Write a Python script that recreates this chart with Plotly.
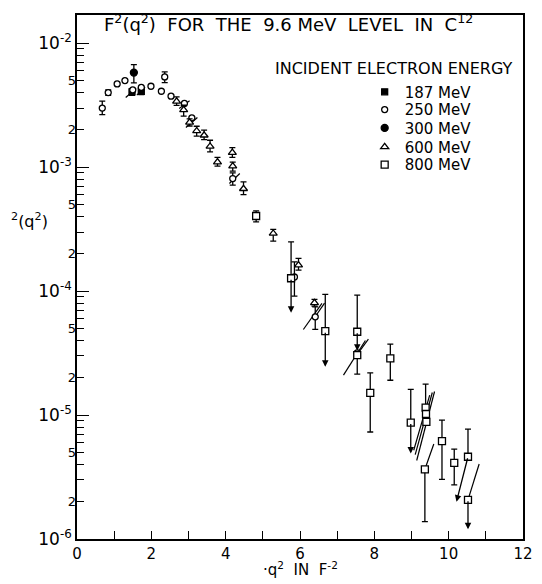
import numpy as np
import plotly.graph_objects as go

FONT = "DejaVu Sans"
INK = "black"

# ---- measured form factors, F^2(q^2), per incident electron energy ----
# 187 MeV
q2_187 = [1.48, 1.73]
f2_187 = [4.05e-3, 4.10e-3]
hi_187 = [4.30e-3, 4.35e-3]
lo_187 = [3.80e-3, 3.85e-3]

# 250 MeV
q2_250 = [0.68, 0.84, 1.08, 1.29, 1.50, 1.73, 1.99, 2.27, 2.36, 2.53, 2.89, 3.09, 4.19, 5.85, 6.41, 7.54]
f2_250 = [3.0e-3, 4.0e-3, 4.7e-3, 5.0e-3, 4.2e-3, 4.4e-3, 4.5e-3, 4.1e-3, 5.35e-3, 3.74e-3,
          3.27e-3, 2.5e-3, 8.1e-4, 1.30e-4, 6.2e-5, 3.18e-5]
hi_250 = [3.41e-3, 4.2e-3, None, None, None, None, None, None, 5.87e-3, None,
          None, None, 9.0e-4, 1.72e-4, 7.46e-5, None]
lo_250 = [2.66e-3, 3.8e-3, None, None, None, None, None, None, 4.82e-3, None,
          None, None, 7.16e-4, 9.1e-5, 4.91e-5, None]

# 300 MeV
q2_300 = [1.53]
f2_300 = [5.8e-3]
hi_300 = [6.73e-3]
lo_300 = [4.79e-3]

# 600 MeV
q2_600 = [2.68, 2.87, 3.03, 3.22, 3.42, 3.58, 3.78, 4.18, 4.19, 4.48, 5.28, 5.96, 6.39]
f2_600 = [3.4e-3, 2.9e-3, 2.3e-3, 1.96e-3, 1.81e-3, 1.47e-3, 1.10e-3, 1.31e-3, 1.02e-3,
          6.7e-4, 2.92e-4, 1.62e-4, 8.05e-5]
hi_600 = [3.69e-3, 3.16e-3, 2.45e-3, 2.14e-3, 1.99e-3, 1.65e-3, 1.20e-3, 1.44e-3, 1.10e-3,
          7.6e-4, 3.15e-4, 1.84e-4, 8.57e-5]
lo_600 = [3.15e-3, 2.58e-3, 2.15e-3, 1.78e-3, 1.67e-3, 1.33e-3, 1.02e-3, 1.20e-3, 9.3e-4,
          6.0e-4, 2.53e-4, 1.48e-4, 7.57e-5]

# 800 MeV
q2_800 = [4.82, 5.76, 6.68, 7.54, 7.54, 7.89, 8.43, 8.98, 9.38, 9.39, 9.40, 9.36, 9.82, 10.15, 10.52, 10.52]
f2_800 = [4.04e-4, 1.27e-4, 4.75e-5, 4.7e-5, 3.05e-5, 1.51e-5, 2.87e-5, 8.7e-6, 1.15e-5, 1.02e-5,
          8.8e-6, 3.65e-6, 6.17e-6, 4.12e-6, 4.61e-6, 2.07e-6]
hi_800 = [4.44e-4, 2.5e-4, 9.4e-5, 9.3e-5, 3.05e-5, 2.19e-5, 3.74e-5, 1.61e-5, 1.78e-5, None,
          None, 3.65e-6, 9.1e-6, 5.32e-6, 7.7e-6, 2.07e-6]
lo_800 = [3.62e-4, 1.27e-4, 4.75e-5, 4.7e-5, 2.14e-5, 7.3e-6, 1.91e-5, 8.7e-6, 1.15e-5, None,
          None, 1.38e-6, 3.03e-6, 2.73e-6, 4.61e-6, 2.07e-6]

# upper limits: arrow from the point (q0, f0) down to (q1, f1)
lim_q0 = [5.76, 6.68, 7.54, 8.98, 10.52, 10.52]
lim_f0 = [1.27e-4, 4.75e-5, 4.7e-5, 8.7e-6, 4.61e-6, 2.07e-6]
lim_q1 = [5.76, 6.68, 7.54, 8.98, 10.21, 10.52]
lim_f1 = [6.7e-5, 2.45e-5, 3.3e-5, 4.9e-6, 2.0e-6, 1.2e-6]

# correlated (slanted) error bars: from (qa, fa) to (qb, fb)
sl_qa = [1.31, 1.61, 2.75, 2.93, 4.10, 6.09, 6.39, 7.17, 7.58, 9.06, 9.10, 9.14, 9.36, 10.52]
sl_fa = [3.65e-3, 3.81e-3, 2.97e-3, 2.09e-3, 7.39e-4, 4.9e-5, 6.1e-5, 2.1e-5, 3.2e-5, 5.2e-6, 4.8e-6, 4.3e-6, 3.65e-6, 2.07e-6]
sl_qb = [1.59, 1.83, 3.03, 3.24, 4.38, 6.59, 6.66, 7.76, 7.84, 9.49, 9.56, 9.62, 9.60, 10.82]
sl_fb = [4.31e-3, 4.44e-3, 3.43e-3, 2.52e-3, 8.9e-4, 7.96e-5, 8.0e-5, 4.0e-5, 4.1e-5, 1.45e-5, 1.52e-5, 1.55e-5, 5.84e-6, 4.03e-6]

# axis ticks
x_ticks = list(range(0, 13))
x_tick_text = [str(v) if v % 2 == 0 else "" for v in x_ticks]
decades = [1e-6, 1e-5, 1e-4, 1e-3, 1e-2]
decade_text = ["10<sup>-6</sup>", "10<sup>-5</sup>", "10<sup>-4</sup>", "10<sup>-3</sup>", "10<sup>-2</sup>"]
sub_mult = [2, 3, 4, 5, 6, 7, 8, 9]
sub_labelled = {2: "2", 5: "5"}


def err_arrays(vals, hi, lo):
    plus, minus = [], []
    for v, h, l in zip(vals, hi, lo):
        if h is None or l is None:
            plus.append(None)
            minus.append(None)
        else:
            plus.append(h - v)
            minus.append(v - l)
    return plus, minus


def series(name, q2, f2, hi, lo, symbol, size, fill, legend):
    plus, minus = err_arrays(f2, hi, lo)
    return go.Scatter(
        x=q2, y=f2, mode="markers", name=name, legend=legend,
        marker=dict(symbol=symbol, size=size, color=fill, line=dict(color=INK, width=1.3)),
        error_y=dict(type="data", array=plus, arrayminus=minus, symmetric=False,
                     color=INK, thickness=1.3, width=3),
    )


fig = go.Figure()

# slanted error bars
sx, sy = [], []
for qa, fa, qb, fb in zip(sl_qa, sl_fa, sl_qb, sl_fb):
    sx += [qa, qb, None]
    sy += [fa, fb, None]
fig.add_trace(go.Scatter(x=sx, y=sy, mode="lines", line=dict(color=INK, width=1.2),
                         showlegend=False, hoverinfo="skip"))

fig.add_trace(series("187 MeV", q2_187, f2_187, hi_187, lo_187, "square", 6, INK, "legend"))
fig.add_trace(series("250 MeV", q2_250, f2_250, hi_250, lo_250, "circle", 6, "white", "legend2"))
fig.add_trace(series("300 MeV", q2_300, f2_300, hi_300, lo_300, "circle", 7, INK, "legend3"))
fig.add_trace(series("600 MeV", q2_600, f2_600, hi_600, lo_600, "triangle-up", 7, "white", "legend4"))
fig.add_trace(series("800 MeV", q2_800, f2_800, hi_800, lo_800, "square", 7, "white", "legend5"))

# overlay axis carrying the 2..9 sub-decade ticks
sub_vals, sub_text = [], []
for d in decades[:-1]:
    for m in sub_mult:
        sub_vals.append(m * d)
        sub_text.append(sub_labelled.get(m, ""))
fig.add_trace(go.Scatter(x=[None], y=[None], yaxis="y2", showlegend=False, hoverinfo="skip"))

annotations = []
for q0, f0, q1, f1 in zip(lim_q0, lim_f0, lim_q1, lim_f1):
    annotations.append(dict(
        x=q1, y=np.log10(f1), ax=q0, ay=np.log10(f0), xref="x", yref="y", axref="x", ayref="y",
        text="", showarrow=True, arrowhead=2, arrowsize=1, arrowwidth=1.3, arrowcolor=INK,
        standoff=0, startstandoff=0,
    ))

annotations += [
    dict(text="F<sup>2</sup>(q<sup>2</sup>)  FOR  THE  9.6 MeV  LEVEL  IN  C<sup>12</sup>",
         xref="paper", yref="paper", x=0.057, y=0.984, xanchor="left", yanchor="middle",
         showarrow=False, font=dict(family=FONT, size=18, color=INK)),
    dict(text="INCIDENT ELECTRON ENERGY", xref="paper", yref="paper", x=0.982, y=0.897,
         xanchor="right", yanchor="middle", showarrow=False,
         font=dict(family=FONT, size=16, color=INK)),
    dict(text="<sup>2</sup>(q<sup>2</sup>)", xref="paper", yref="paper", x=-0.107, y=0.607,
         xanchor="center", yanchor="middle", showarrow=False,
         font=dict(family=FONT, size=16, color=INK)),
    dict(text="·q<sup>2</sup>  IN  F<sup>-2</sup>", xref="paper", yref="paper", x=0.5, y=-0.058,
         xanchor="center", yanchor="middle", showarrow=False,
         font=dict(family=FONT, size=15, color=INK)),
]

y_range = [-6, -1.772]

# one single-entry legend per energy, stacked as rows
legend_rows = [0.853, 0.819, 0.784, 0.748, 0.714]
legend_keys = ["legend", "legend2", "legend3", "legend4", "legend5"]
legend_layout = {}
for key, row in zip(legend_keys, legend_rows):
    legend_layout[key] = dict(x=0.645, y=row, xanchor="left", yanchor="middle",
                              bgcolor="rgba(0,0,0,0)", itemwidth=30,
                              font=dict(family=FONT, size=15, color=INK))

fig.update_layout(
    width=542, height=584,
    margin=dict(l=77, r=9, t=15, b=45),
    paper_bgcolor="white", plot_bgcolor="white",
    font=dict(family=FONT, color=INK),
    showlegend=True,
    annotations=annotations,
    xaxis=dict(range=[0, 12], tickvals=x_ticks, ticktext=x_tick_text, ticks="inside", ticklen=8,
               tickwidth=1.3, tickcolor=INK, showgrid=False, zeroline=False, showline=True,
               linewidth=1.6, linecolor=INK, mirror=True,
               tickfont=dict(family=FONT, size=15, color=INK)),
    yaxis=dict(type="log", range=y_range, tickvals=decades, ticktext=decade_text, ticks="inside",
               ticklen=12, tickwidth=1.3, tickcolor=INK, showgrid=False, zeroline=False,
               showline=True, linewidth=1.6, linecolor=INK, mirror=True,
               tickfont=dict(family=FONT, size=17, color=INK)),
    yaxis2=dict(type="log", range=y_range, overlaying="y", side="left", anchor="x",
                tickvals=sub_vals, ticktext=sub_text, ticks="inside", ticklen=7, tickwidth=1.2,
                tickcolor=INK, showgrid=False, zeroline=False, showline=False,
                tickfont=dict(family=FONT, size=13, color=INK)),
    **legend_layout,
)

fig.write_html("out.html")
